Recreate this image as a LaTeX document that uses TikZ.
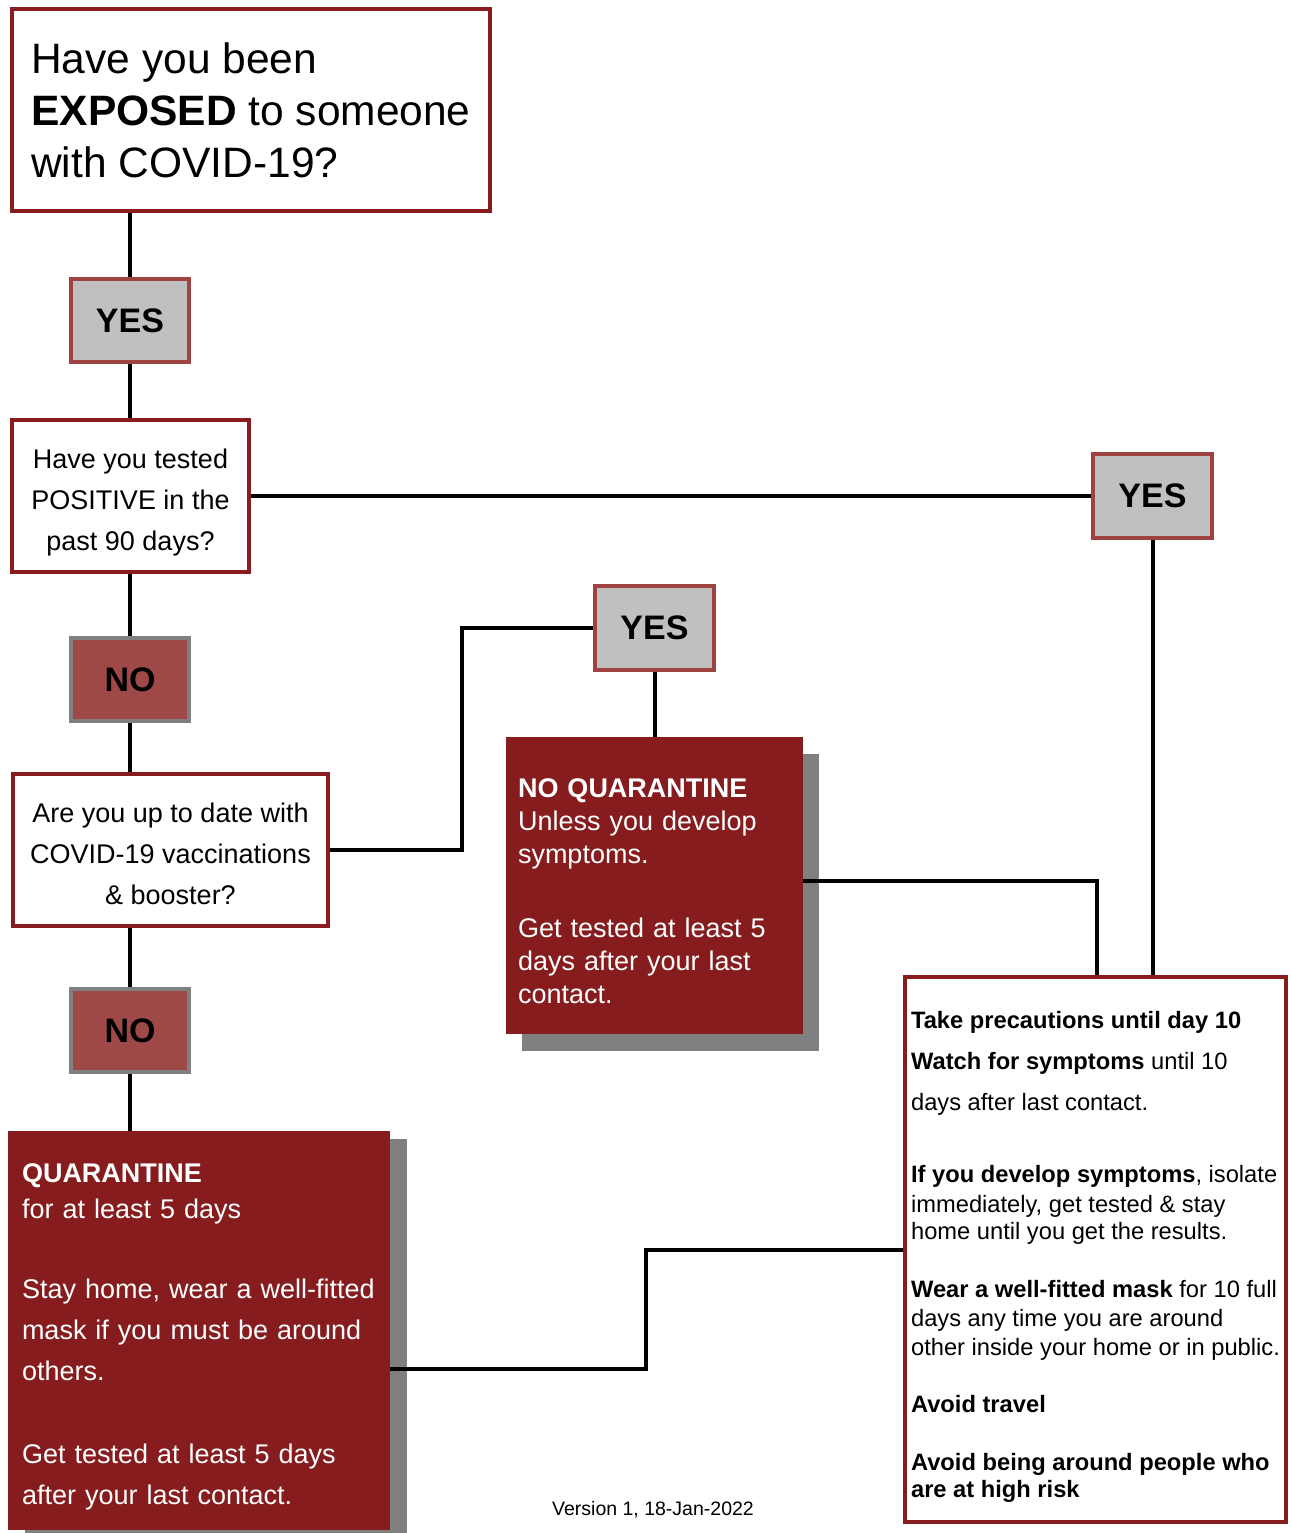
\documentclass[tikz,border=0pt]{standalone}
\usepackage{fontspec}
\setmainfont{Liberation Sans}
\usepackage{tikz}
\usetikzlibrary{calc,positioning}
\pgfdeclarelayer{background}
\pgfdeclarelayer{links}
\pgfsetlayers{background,links,main}
\definecolor{boxred}{RGB}{136,28,30}
\definecolor{yesedge}{RGB}{160,66,66}
\definecolor{yesfill}{RGB}{192,192,192}
\definecolor{nofill}{RGB}{158,72,72}
\definecolor{noedge}{RGB}{128,128,128}
\definecolor{advfill}{RGB}{134,28,30}
\definecolor{shade}{RGB}{128,128,128}
\newcommand{\pushdown}[1]{\rule{0pt}{#1}}
\tikzset{
    question/.style={
        rectangle,
        draw=boxred, line width=4pt,
        fill=white,
        inner sep=0pt, outer sep=0pt,
        align=center,
        font={\fontsize{27pt}{41pt}\selectfont}
    },
    answer/.style={
        rectangle,
        line width=4pt,
        inner sep=0pt, outer sep=0pt,
        minimum width=118pt, minimum height=83pt,
        font={\bfseries\fontsize{34pt}{40pt}\selectfont}
    },
    yesbox/.style={answer, draw=yesedge, fill=yesfill},
    nobox/.style={answer, draw=noedge, fill=nofill},
    advice/.style={
        rectangle,
        fill=advfill, text=white,
        inner ysep=0pt, outer sep=0pt,
        align=left
    },
    link/.style={draw, line width=4pt},
}
\begin{document}
\begin{tikzpicture}
[
    x=1pt, y=-1pt,
    shadowbox/.style={fill=shade},
]
\useasboundingbox (0,0) rectangle (1290,1533);
\node at (251,110) [question, align=left, minimum width=478pt, minimum height=202pt,
    font={\fontsize{42.5pt}{52pt}\selectfont}] (exposed)
    {Have you been\\\textbf{EXPOSED} to someone\\with COVID-19?};
\node at (130,320.5) [yesbox] (yes1) {YES};
\node at (130.5,496) [question, minimum width=237pt, minimum height=152pt] (tested)
    {\pushdown{32pt}Have you tested\\POSITIVE in the\\past 90 days?};
\node at (130,679.5) [nobox] (no1) {NO};
\node at (170.5,850) [question, minimum width=315pt, minimum height=152pt] (uptodate)
    {\pushdown{27pt}Are you up to date with\\COVID-19 vaccinations\\\& booster?};
\node at (130,1030.5) [nobox] (no2) {NO};
\node at (654.5,628) [yesbox, minimum width=119pt, minimum height=84pt] (yes2) {YES};
\node at (1152.5,496) [yesbox, minimum width=119pt, minimum height=84pt] (yes3) {YES};
\node at (654.5,885.5) [advice, inner xsep=12pt, text width=273pt, minimum height=297pt,
    font={\fontsize{27pt}{33pt}\selectfont}] (noquar)
    {\pushdown{30pt}\textbf{NO QUARANTINE}\\Unless you develop\\symptoms.\\[41pt]Get tested at least 5\\days after your last\\contact.};
\node at (199,1330.5) [advice, inner xsep=14pt, text width=354pt, minimum height=399pt,
    font={\fontsize{27pt}{41pt}\selectfont}] (quar)
    {\pushdown{31pt}\textbf{QUARANTINE}\\[-5pt]for at least 5 days\\[39pt]Stay home, wear a well-fitted\\mask if you must be around\\others.\\[42pt]Get tested at least 5 days\\after your last contact.};
\node at (1095.5,1249.5) [question, align=left, minimum width=381pt, minimum height=545pt,
    font={\fontsize{23.7pt}{29pt}\selectfont}] (precaution)
    {\pushdown{31pt}\textbf{Take precautions until day 10}\\[12pt]
     \textbf{Watch for symptoms} until 10\\[12pt]
     days after last contact.\\[43pt]
     \textbf{If you develop symptoms}, isolate\\[1pt]
     immediately, get tested \& stay\\[-2pt]
     home until you get the results.\\[29pt]
     \textbf{Wear a well-fitted mask} for 10 full\\
     days any time you are around\\
     other inside your home or in public.\\[28pt]
     \textbf{Avoid travel}\\[29pt]
     \textbf{Avoid being around people who}\\[-2pt]
     \textbf{are at high risk}};
\node at (653,1510) [font={\fontsize{19.5pt}{23pt}\selectfont}] (version) {Version 1, 18-Jan-2022};
\coordinate (bend1) at (462,0);
\coordinate (bend2) at (1097,0);
\coordinate (bend3) at (646,0);
\begin{pgfonlayer}{background}
    \fill[shadowbox] ([xshift=16pt,yshift=-17pt]noquar.north west) rectangle ([xshift=16pt,yshift=-17pt]noquar.south east);
    \fill[shadowbox] ([xshift=17pt,yshift=-8pt]quar.north west) rectangle ([xshift=17pt,yshift=-8pt]quar.south east);
\end{pgfonlayer}
\begin{pgfonlayer}{links}
    \draw[link] (yes1 |- exposed.south) -- (yes1.north);
    \draw[link] (yes1.south) -- (yes1 |- tested.north);
    \draw[link] (tested.east) -- (yes3.west);
    \draw[link] (yes3.south) -- (yes3 |- precaution.north);
    \draw[link] (no1 |- tested.south) -- (no1.north);
    \draw[link] (no1.south) -- (no1 |- uptodate.north);
    \draw[link] (uptodate.east) -- (uptodate.east -| bend1) |- (yes2.west);
    \draw[link] (yes2.south) -- (noquar.north);
    \draw[link] ([yshift=5pt]noquar.east) -| (bend2 |- precaution.north);
    \draw[link] (no2 |- uptodate.south) -- (no2.north);
    \draw[link] (no2.south) -- (no2 |- quar.north);
    \draw[link] ([yshift=-38pt]quar.east) -| (bend3 |- precaution.west) -- (precaution.west);
\end{pgfonlayer}
\end{tikzpicture}
\end{document}
